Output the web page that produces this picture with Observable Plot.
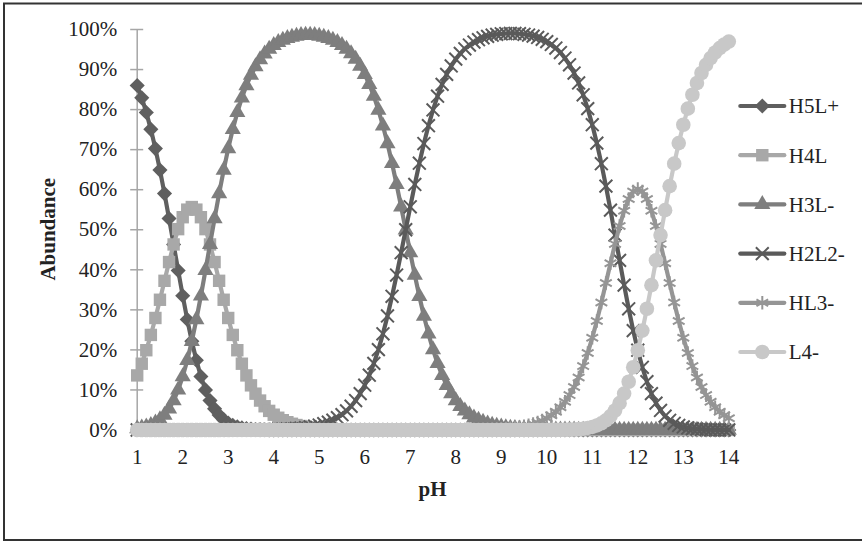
<!DOCTYPE html>
<html><head><meta charset="utf-8">
<script src="https://cdn.jsdelivr.net/npm/d3@7"></script>
<script src="https://cdn.jsdelivr.net/npm/@observablehq/plot@0.6"></script>
<style>
html,body{margin:0;padding:0;background:#fff;}
#chart{position:relative;width:862px;height:542px;overflow:hidden;}
</style></head><body><div id="chart"></div>
<script>
// ---------- data ----------
const pH = [
1,1.1,1.2,1.3,1.4,1.5,1.6,1.7,1.8,1.9,
2,2.1,2.2,2.3,2.4,2.5,2.6,2.7,2.8,2.9,
3,3.1,3.2,3.3,3.4,3.5,3.6,3.7,3.8,3.9,
4,4.1,4.2,4.3,4.4,4.5,4.6,4.7,4.8,4.9,
5,5.1,5.2,5.3,5.4,5.5,5.6,5.7,5.8,5.9,
6,6.1,6.2,6.3,6.4,6.5,6.6,6.7,6.8,6.9,
7,7.1,7.2,7.3,7.4,7.5,7.6,7.7,7.8,7.9,
8,8.1,8.2,8.3,8.4,8.5,8.6,8.7,8.8,8.9,
9,9.1,9.2,9.3,9.4,9.5,9.6,9.7,9.8,9.9,
10,10.1,10.2,10.3,10.4,10.5,10.6,10.7,10.8,10.9,
11,11.1,11.2,11.3,11.4,11.5,11.6,11.7,11.8,11.9,
12,12.1,12.2,12.3,12.4,12.5,12.6,12.7,12.8,12.9,
13,13.1,13.2,13.3,13.4,13.5,13.6,13.7,13.8,13.9,
14];

const H5L = [
86.02,82.93,79.29,75.07,70.26,64.89,59.03,52.79,46.33,39.84,
33.52,27.58,22.16,17.40,13.35,10.01,7.34,5.28,3.72,2.58,
1.76,1.19,0.79,0.52,0.34,0.22,0.14,0.09,0.06,0.04,
0.02,0.02,0.01,0.01,0,0,0,0,0,0,
0,0,0,0,0,0,0,0,0,0,
0,0,0,0,0,0,0,0,0,0,
0,0,0,0,0,0,0,0,0,0,
0,0,0,0,0,0,0,0,0,0,
0,0,0,0,0,0,0,0,0,0,
0,0,0,0,0,0,0,0,0,0,
0,0,0,0,0,0,0,0,0,0,
0,0,0,0,0,0,0,0,0,0,
0,0,0,0,0,0,0,0,0,0,
0];

const H4L = [
13.63,16.55,19.92,23.74,27.97,32.52,37.25,41.93,46.33,50.15,
53.13,55.02,55.67,55.02,53.13,50.15,46.33,41.93,37.25,32.52,
27.97,23.74,19.92,16.55,13.63,11.15,9.07,7.35,5.93,4.77,
3.82,3.06,2.45,1.95,1.56,1.24,0.99,0.78,0.62,0.49,
0.39,0.31,0.25,0.19,0.15,0.12,0.10,0.07,0.06,0.05,
0.04,0.03,0.02,0.02,0.01,0.01,0,0,0,0,
0,0,0,0,0,0,0,0,0,0,
0,0,0,0,0,0,0,0,0,0,
0,0,0,0,0,0,0,0,0,0,
0,0,0,0,0,0,0,0,0,0,
0,0,0,0,0,0,0,0,0,0,
0,0,0,0,0,0,0,0,0,0,
0,0,0,0,0,0,0,0,0,0,
0];

const H3L = [
0.34,0.52,0.79,1.19,1.76,2.58,3.72,5.28,7.34,10.01,
13.35,17.40,22.16,27.58,33.52,39.84,46.33,52.79,59.03,64.89,
70.26,75.07,79.29,82.93,86.02,88.59,90.74,92.50,93.94,95.10,
96.03,96.77,97.35,97.80,98.13,98.37,98.52,98.59,98.59,98.52,
98.37,98.13,97.80,97.35,96.77,96.05,95.14,93.99,92.59,90.87,
88.79,86.30,83.35,79.91,75.97,71.52,66.61,61.31,55.73,50.00,
44.27,38.69,33.39,28.47,24.02,20.07,16.63,13.68,11.18,9.09,
7.36,5.93,4.77,3.83,3.06,2.45,1.95,1.56,1.24,0.99,
0.79,0.62,0.50,0.39,0.31,0.25,0.20,0.16,0.12,0.10,
0.08,0.06,0.05,0.04,0.03,0.02,0.02,0.01,0.01,0.01,
0,0,0,0,0,0,0,0,0,0,
0,0,0,0,0,0,0,0,0,0,
0,0,0,0,0,0,0,0,0,0,
0];

const H2L2 = [
0,0,0,0,0,0,0,0,0,0,
0,0,0,0,0,0,0,0,0,0,
0.01,0.01,0.02,0.02,0.03,0.04,0.05,0.06,0.07,0.10,
0.12,0.15,0.19,0.25,0.31,0.39,0.49,0.62,0.78,0.99,
1.24,1.56,1.95,2.45,3.06,3.82,4.77,5.93,7.35,9.09,
11.18,13.68,16.63,20.07,24.02,28.47,33.39,38.69,44.27,50.00,
55.73,61.31,66.61,71.52,75.97,79.91,83.35,86.30,88.80,90.89,
92.61,94.03,95.18,96.12,96.86,97.46,97.93,98.29,98.57,98.78,
98.92,99.00,99.03,99.01,98.94,98.81,98.62,98.35,98.01,97.56,
96.98,96.26,95.36,94.25,92.87,91.18,89.13,86.65,83.70,80.24,
76.22,71.63,66.50,60.89,54.90,48.66,42.36,36.17,30.27,24.82,
19.92,15.66,12.05,9.09,6.71,4.87,3.46,2.42,1.67,1.14,
0.76,0.51,0.33,0.22,0.14,0.09,0.06,0.04,0.02,0.02,
0.01];

const HL3 = [
0,0,0,0,0,0,0,0,0,0,
0,0,0,0,0,0,0,0,0,0,
0,0,0,0,0,0,0,0,0,0,
0,0,0,0,0,0,0,0,0,0,
0,0,0,0,0,0,0,0,0,0,
0,0,0,0,0,0,0,0,0,0,
0,0,0,0,0,0,0,0,0.02,0.02,
0.03,0.04,0.05,0.06,0.07,0.09,0.12,0.15,0.19,0.24,
0.30,0.38,0.47,0.60,0.75,0.94,1.19,1.49,1.87,2.34,
2.93,3.66,4.56,5.68,7.04,8.71,10.72,13.12,15.95,19.25,
23.02,27.23,31.83,36.69,41.64,46.47,50.93,54.74,57.68,59.53,
60.16,59.53,57.68,54.74,50.93,46.47,41.64,36.69,31.83,27.23,
23.02,19.25,15.95,13.12,10.72,8.71,7.04,5.68,4.56,3.66,
2.93];

const L4 = [
0,0,0,0,0,0,0,0,0,0,
0,0,0,0,0,0,0,0,0,0,
0,0,0,0,0,0,0,0,0,0,
0,0,0,0,0,0,0,0,0,0,
0,0,0,0,0,0,0,0,0,0,
0,0,0,0,0,0,0,0,0,0,
0,0,0,0,0,0,0,0,0,0,
0,0,0,0,0,0,0,0,0,0,
0,0,0,0,0,0,0,0,0,0.01,
0.01,0.02,0.02,0.04,0.06,0.09,0.14,0.22,0.33,0.51,
0.76,1.14,1.67,2.42,3.46,4.87,6.71,9.09,12.05,15.66,
19.92,24.82,30.27,36.17,42.36,48.66,54.90,60.89,66.50,71.63,
76.22,80.24,83.70,86.65,89.13,91.18,92.87,94.25,95.36,96.26,
96.98];

const seriesNames = ["H5L+", "H4L", "H3L-", "H2L2-", "HL3-", "L4-"];
const seriesValues = [H5L, H4L, H3L, H2L2, HL3, L4];
const xTicks = [1,2,3,4,5,6,7,8,9,10,11,12,13,14];
const yTicks = [0,10,20,30,40,50,60,70,80,90,100];
const xLabel = "pH";
const yLabel = "Abundance";

// ---------- styles ----------
const seriesStyle = [
  {color: "#5f5f5f", symbol: "diamond2", r: 6.8, filled: true},
  {color: "#a8a8a8", symbol: "square",   r: 7.0, filled: true},
  {color: "#7e7e7e", symbol: "triangle", r: 6.0, filled: true},
  {color: "#5a5a5a", symbol: "times",    r: 5.9, filled: false},
  {color: "#959595", symbol: "asterisk", r: 6.4, filled: false},
  {color: "#c8c8c8", symbol: "circle",   r: 7.3, filled: true}
];
const d3Symbols = {diamond2: d3.symbolDiamond2, square: d3.symbolSquare, triangle: d3.symbolTriangle,
  times: d3.symbolTimes, asterisk: d3.symbolAsterisk, circle: d3.symbolCircle};
const FONT = "'Liberation Serif', 'Times New Roman', serif";
const FS = 21;
const TEXT = "#222";

// ---------- table ----------
const tables = seriesValues.map((vals, s) => vals.map((v, i) => ({pH: pH[i], v, name: seriesNames[s]})));

const seriesMarks = tables.flatMap((rows, s) => {
  const st = seriesStyle[s];
  return [
    Plot.line(rows, {x: "pH", y: "v", stroke: st.color, strokeWidth: 4.2, strokeLinejoin: "round"}),
    Plot.dot(rows, st.filled
      ? {x: "pH", y: "v", symbol: st.symbol, r: st.r, fill: st.color, stroke: "none"}
      : {x: "pH", y: "v", symbol: st.symbol, r: st.r, fill: "none", stroke: st.color, strokeWidth: 2})
  ];
});

const W = 862, H = 542;
const plot = Plot.plot({
  width: W, height: H,
  marginLeft: 136.7, marginRight: 133.7, marginTop: 29, marginBottom: 112.5,
  x: {domain: [xTicks[0], xTicks[xTicks.length - 1]]},
  y: {domain: [yTicks[0], yTicks[yTicks.length - 1]]},
  style: {fontFamily: FONT, fontSize: FS + "px", color: TEXT, background: "#fff", overflow: "visible"},
  marks: [
    Plot.ruleX([xTicks[0]], {y1: yTicks[0], y2: yTicks[yTicks.length - 1], stroke: "#a6a6a6", strokeWidth: 1.5}),
    Plot.axisY({ticks: yTicks, tickSize: 13, dx: 6.5, tickFormat: () => "", stroke: "#a6a6a6", strokeWidth: 1.5, label: null}),
    Plot.axisY({ticks: yTicks, tickSize: 0, tickPadding: 20, tickFormat: d => d + "%", fontSize: FS, fill: TEXT, label: null}),
    Plot.axisX({ticks: xTicks, tickSize: 0, tickPadding: 19, tickFormat: d => String(d), fontSize: FS, fill: TEXT, label: null}),
    ...seriesMarks
  ]
});

document.getElementById("chart").appendChild(plot);

// ---------- decorations: border, axis titles, legend ----------
const svg = d3.select(plot);
const xs = plot.scale("x"), ys = plot.scale("y");
const [fx0, fx1] = xs.range, [fy0, fy1] = ys.range; // fy0 bottom, fy1 top

svg.insert("rect", ":first-child")
  .attr("x", 4).attr("y", 3.5).attr("width", W + 20).attr("height", 536.5)
  .attr("fill", "#fff").attr("stroke", "#333").attr("stroke-width", 2);

svg.append("text")
  .attr("x", (fx0 + fx1) / 2).attr("y", fy0 + 66)
  .attr("text-anchor", "middle").attr("font-weight", "bold")
  .attr("font-family", FONT).attr("font-size", FS).attr("fill", TEXT)
  .text(xLabel);

svg.append("text")
  .attr("transform", `translate(${fx0 - 82},${(fy0 + fy1) / 2}) rotate(-90)`)
  .attr("text-anchor", "middle").attr("font-weight", "bold")
  .attr("font-family", FONT).attr("font-size", FS).attr("fill", TEXT)
  .text(yLabel);

const lg = svg.append("g").attr("text-anchor", "start");
const lgX0 = fx1 + 12, lgX1 = fx1 + 56, lgTextX = fx1 + 60.5, lgY0 = 106, lgDy = 49.2;
seriesNames.forEach((name, s) => {
  const st = seriesStyle[s];
  const y = lgY0 + s * lgDy;
  lg.append("line").attr("x1", lgX0).attr("x2", lgX1).attr("y1", y).attr("y2", y)
    .attr("stroke", st.color).attr("stroke-width", 4.2).attr("stroke-linecap", "round");
  const p = lg.append("path")
    .attr("d", d3.symbol(d3Symbols[st.symbol], Math.PI * st.r * st.r)())
    .attr("transform", `translate(${(lgX0 + lgX1) / 2},${y})`);
  if (st.filled) p.attr("fill", st.color);
  else p.attr("fill", "none").attr("stroke", st.color).attr("stroke-width", 2);
  lg.append("text").attr("x", lgTextX).attr("y", y).attr("dy", "0.35em")
    .attr("text-anchor", "start")
    .attr("font-family", FONT).attr("font-size", FS).attr("fill", TEXT).text(name);
});
</script>
</body></html>
